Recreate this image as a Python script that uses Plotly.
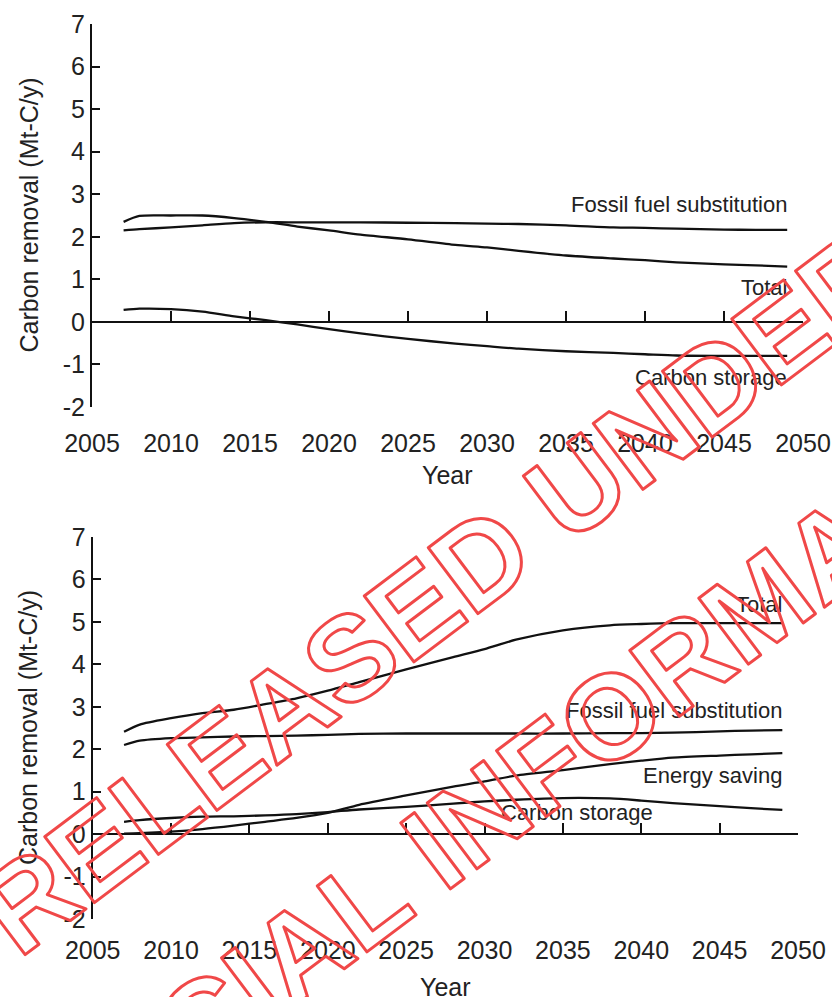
import plotly.graph_objects as go

# ---- data (Mt-C per year) ----
years = [2007, 2008, 2010, 2012, 2014, 2016, 2018, 2020, 2022, 2025,
         2028, 2030, 2032, 2035, 2038, 2040, 2042, 2045, 2047, 2049]

# upper panel
top_fossil = [2.15, 2.18, 2.22, 2.27, 2.32, 2.34, 2.34, 2.34, 2.34, 2.33,
              2.32, 2.31, 2.30, 2.27, 2.22, 2.21, 2.19, 2.17, 2.16, 2.16]
top_total = [2.35, 2.49, 2.50, 2.50, 2.44, 2.35, 2.24, 2.15, 2.05, 1.94,
             1.81, 1.75, 1.67, 1.56, 1.49, 1.45, 1.40, 1.35, 1.33, 1.30]
top_storage = [0.28, 0.31, 0.30, 0.24, 0.13, 0.04, -0.06, -0.17, -0.27, -0.40,
               -0.51, -0.57, -0.63, -0.69, -0.73, -0.76, -0.79, -0.80, -0.80, -0.80]

# lower panel
bot_total = [2.41, 2.58, 2.73, 2.85, 2.93, 3.06, 3.20, 3.38, 3.58, 3.88,
             4.17, 4.36, 4.58, 4.80, 4.92, 4.95, 4.97, 4.97, 4.97, 4.97]
bot_fossil = [2.10, 2.20, 2.26, 2.28, 2.30, 2.31, 2.32, 2.34, 2.36, 2.37,
              2.37, 2.37, 2.37, 2.37, 2.38, 2.38, 2.39, 2.42, 2.44, 2.45]
bot_energy = [0.01, 0.02, 0.06, 0.12, 0.20, 0.29, 0.38, 0.50, 0.69, 0.91,
              1.12, 1.24, 1.38, 1.51, 1.65, 1.73, 1.80, 1.85, 1.88, 1.91]
bot_storage = [0.29, 0.33, 0.38, 0.41, 0.42, 0.44, 0.47, 0.52, 0.58, 0.64,
               0.72, 0.77, 0.81, 0.85, 0.84, 0.79, 0.73, 0.66, 0.61, 0.57]

x_ticks = [2005, 2010, 2015, 2020, 2025, 2030, 2035, 2040, 2045, 2050]
y_ticks = [-2, -1, 0, 1, 2, 3, 4, 5, 6, 7]

FONT = "Liberation Sans, Arial, sans-serif"
INK = "#222222"
LINE = "#111111"

W, H = 832, 997
YMIN, YMAX = -2, 7

# panel placement (paper fractions)
top_x = [92 / W, 803 / W]
top_y = [1 - 407 / H, 1 - 24 / H]
bot_x = [92.7 / W, 798 / W]
bot_y = [1 - 919 / H, 1 - 537 / H]


def zero_pos(dom):
    return dom[0] + (0 - YMIN) / (YMAX - YMIN) * (dom[1] - dom[0])


fig = go.Figure()


def add_line(ys, xa, ya):
    fig.add_trace(go.Scatter(
        x=years, y=ys, mode="lines",
        line=dict(color=LINE, width=2.3, shape="spline", smoothing=0.7),
        xaxis=xa, yaxis=ya, showlegend=False, hoverinfo="skip"))


for s in (top_fossil, top_total, top_storage):
    add_line(s, "x", "y")
for s in (bot_total, bot_fossil, bot_energy, bot_storage):
    add_line(s, "x2", "y2")


def x_axis(dom, ydom, standoff):
    # x axis runs along y = 0; its labels sit below the panel
    return dict(
        domain=dom, range=[2005, 2050], anchor="free", position=zero_pos(ydom),
        tickmode="array", tickvals=x_ticks, ticktext=[str(v) for v in x_ticks],
        ticks="inside", ticklen=10, tickwidth=1.6, tickcolor=LINE,
        showline=True, linecolor=LINE, linewidth=2,
        showgrid=False, zeroline=False, ticklabelstandoff=standoff,
        automargin=False,
        tickfont=dict(family=FONT, size=25, color=INK), fixedrange=True)


def y_axis(dom, anchor):
    return dict(
        domain=dom, range=[YMIN, YMAX], anchor=anchor,
        tickmode="array", tickvals=y_ticks, ticktext=[str(v) for v in y_ticks],
        ticks="inside", ticklen=8, tickwidth=1.6, tickcolor=LINE,
        showline=True, linecolor=LINE, linewidth=2,
        showgrid=False, zeroline=False, automargin=False,
        tickfont=dict(family=FONT, size=25, color=INK), fixedrange=True)


annotations = []


def label(text, x, y, xref, yref, xanchor="right", size=22):
    annotations.append(dict(
        text=text, x=x, y=y, xref=xref, yref=yref, xanchor=xanchor,
        yanchor="middle", showarrow=False,
        font=dict(family=FONT, size=size, color=INK)))


# series labels
label("Fossil fuel substitution", 2049.1, 2.75, "x", "y")
label("Total", 2049.1, 0.80, "x", "y")
label("Carbon storage", 2049.1, -1.31, "x", "y")
label("Total", 2049.1, 5.40, "x2", "y2")
label("Fossil fuel substitution", 2049.1, 2.92, "x2", "y2")
label("Energy saving", 2049.1, 1.39, "x2", "y2")
label("Carbon storage", 2035.9, 0.50, "x2", "y2", xanchor="center")

# axis titles
for ydom, xdom, ypix in ((top_y, top_x, 475), (bot_y, bot_x, 987)):
    annotations.append(dict(
        text="Carbon removal (Mt-C/y)", x=28 / W, y=(ydom[0] + ydom[1]) / 2,
        xref="paper", yref="paper", xanchor="center", yanchor="middle",
        textangle=-90, showarrow=False,
        font=dict(family=FONT, size=25, color=INK)))
    annotations.append(dict(
        text="Year", x=(xdom[0] + xdom[1]) / 2, y=1 - ypix / H,
        xref="paper", yref="paper", xanchor="center", yanchor="middle",
        showarrow=False, font=dict(family=FONT, size=25, color=INK)))

# release stamp, outlined lettering
STAMP = "fill:none;stroke:#f04848;stroke-width:3px;stroke-linejoin:round"
for text, cx, cy in (("RELEASED UNDER THE", 547, 509),
                     ("OFFICIAL INFORMATION ACT", 630, 701)):
    annotations.append(dict(
        text=f'<span style="{STAMP}">{text}</span>',
        x=cx / W, y=1 - cy / H, xref="paper", yref="paper",
        xanchor="center", yanchor="middle", textangle=-37, showarrow=False,
        font=dict(family=FONT, size=120, color="#f04848", weight=700)))

fig.update_layout(
    width=W, height=H, autosize=False,
    margin=dict(l=0, r=0, t=0, b=0, pad=0, autoexpand=False),
    paper_bgcolor="white", plot_bgcolor="white",
    xaxis=x_axis(top_x, top_y, 99), yaxis=y_axis(top_y, "x"),
    xaxis2=x_axis(bot_x, bot_y, 94), yaxis2=y_axis(bot_y, "x2"),
    annotations=annotations,
)

fig.write_html("out.html")
